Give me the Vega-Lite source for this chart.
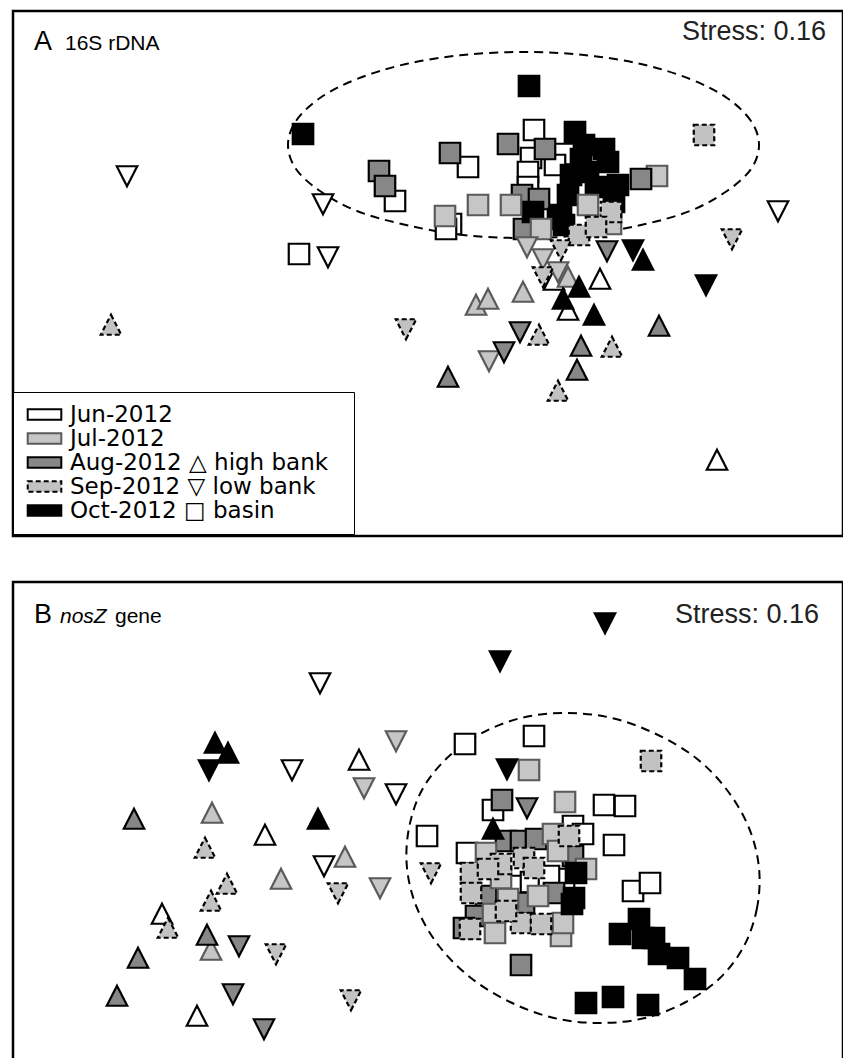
{
  "$schema": "https://vega.github.io/schema/vega-lite/v6.json",
  "padding": {"left": 11, "top": 9, "right": 0, "bottom": 0},
  "spacing": 42,
  "config": {
    "view": {"stroke": "black", "strokeWidth": 2.5},
    "font": "Liberation Sans"
  },
  "datasets": {
    "ellA": [
      {"i": 0, "x": 3.31, "y": 1.29}, {"i": 1, "x": 3.23, "y": 1.53}, {"i": 2, "x": 2.99, "y": 1.76},
      {"i": 3, "x": 2.62, "y": 1.95}, {"i": 4, "x": 2.13, "y": 2.10}, {"i": 5, "x": 1.56, "y": 2.19},
      {"i": 6, "x": 0.96, "y": 2.22}, {"i": 7, "x": 0.35, "y": 2.19}, {"i": 8, "x": -0.22, "y": 2.10},
      {"i": 9, "x": -0.71, "y": 1.95}, {"i": 10, "x": -1.08, "y": 1.76}, {"i": 11, "x": -1.32, "y": 1.53},
      {"i": 12, "x": -1.40, "y": 1.29}, {"i": 13, "x": -1.32, "y": 1.05}, {"i": 14, "x": -1.08, "y": 0.83},
      {"i": 15, "x": -0.71, "y": 0.63}, {"i": 16, "x": -0.22, "y": 0.49}, {"i": 17, "x": 0.35, "y": 0.39},
      {"i": 18, "x": 0.96, "y": 0.36}, {"i": 19, "x": 1.56, "y": 0.39}, {"i": 20, "x": 2.13, "y": 0.49},
      {"i": 21, "x": 2.62, "y": 0.63}, {"i": 22, "x": 2.99, "y": 0.83}, {"i": 23, "x": 3.23, "y": 1.05}
    ],
    "ellB": [
      {"i": 0, "x": 3.31, "y": -0.23}, {"i": 1, "x": 3.29, "y": -0.63}, {"i": 2, "x": 3.16, "y": -1.01},
      {"i": 3, "x": 2.92, "y": -1.33}, {"i": 4, "x": 2.58, "y": -1.57}, {"i": 5, "x": 2.17, "y": -1.73},
      {"i": 6, "x": 1.72, "y": -1.78}, {"i": 7, "x": 1.26, "y": -1.73}, {"i": 8, "x": 0.82, "y": -1.57},
      {"i": 9, "x": 0.43, "y": -1.33}, {"i": 10, "x": 0.11, "y": -1.01}, {"i": 11, "x": -0.11, "y": -0.63},
      {"i": 12, "x": -0.21, "y": -0.23}, {"i": 13, "x": -0.19, "y": 0.17}, {"i": 14, "x": -0.06, "y": 0.55},
      {"i": 15, "x": 0.19, "y": 0.87}, {"i": 16, "x": 0.52, "y": 1.11}, {"i": 17, "x": 0.93, "y": 1.27},
      {"i": 18, "x": 1.38, "y": 1.32}, {"i": 19, "x": 1.84, "y": 1.27}, {"i": 20, "x": 2.28, "y": 1.11},
      {"i": 21, "x": 2.68, "y": 0.87}, {"i": 22, "x": 2.99, "y": 0.55}, {"i": 23, "x": 3.21, "y": 0.17}
    ],
    "rdna": [
      {"month": "Jun-2012", "site": "basin", "x": -1.29, "y": 0.20},
      {"month": "Jun-2012", "site": "basin", "x": -0.33, "y": 0.73},
      {"month": "Jun-2012", "site": "basin", "x": 0.40, "y": 1.07},
      {"month": "Jun-2012", "site": "basin", "x": 0.23, "y": 0.50},
      {"month": "Jun-2012", "site": "basin", "x": 0.18, "y": 0.45},
      {"month": "Jun-2012", "site": "basin", "x": 1.06, "y": 1.44},
      {"month": "Jun-2012", "site": "basin", "x": 1.03, "y": 1.16},
      {"month": "Jun-2012", "site": "basin", "x": 1.37, "y": 1.20},
      {"month": "Jun-2012", "site": "basin", "x": 1.00, "y": 1.02},
      {"month": "Jun-2012", "site": "basin", "x": 1.27, "y": 1.09},
      {"month": "Jun-2012", "site": "basin", "x": 1.00, "y": 0.87},
      {"month": "Jul-2012", "site": "basin", "x": 2.29, "y": 0.98},
      {"month": "Aug-2012", "site": "basin", "x": -0.49, "y": 1.03},
      {"month": "Aug-2012", "site": "basin", "x": -0.43, "y": 0.88},
      {"month": "Aug-2012", "site": "basin", "x": 0.22, "y": 1.21},
      {"month": "Aug-2012", "site": "basin", "x": 0.80, "y": 1.30},
      {"month": "Aug-2012", "site": "basin", "x": 1.17, "y": 1.25},
      {"month": "Aug-2012", "site": "basin", "x": 0.94, "y": 0.79},
      {"month": "Aug-2012", "site": "basin", "x": 1.11, "y": 0.75},
      {"month": "Aug-2012", "site": "basin", "x": 2.13, "y": 0.95},
      {"month": "Aug-2012", "site": "basin", "x": 0.96, "y": 0.45},
      {"month": "Oct-2012", "site": "basin", "x": -1.25, "y": 1.40},
      {"month": "Oct-2012", "site": "basin", "x": 1.01, "y": 1.88},
      {"month": "Oct-2012", "site": "basin", "x": 1.47, "y": 1.42},
      {"month": "Oct-2012", "site": "basin", "x": 1.56, "y": 1.29},
      {"month": "Oct-2012", "site": "basin", "x": 1.76, "y": 1.25},
      {"month": "Oct-2012", "site": "basin", "x": 1.80, "y": 1.12},
      {"month": "Oct-2012", "site": "basin", "x": 1.90, "y": 0.89},
      {"month": "Oct-2012", "site": "basin", "x": 1.43, "y": 0.99},
      {"month": "Oct-2012", "site": "basin", "x": 1.40, "y": 0.79},
      {"month": "Oct-2012", "site": "basin", "x": 1.33, "y": 0.59},
      {"month": "Oct-2012", "site": "basin", "x": 1.60, "y": 1.02},
      {"month": "Oct-2012", "site": "basin", "x": 1.86, "y": 0.72},
      {"month": "Oct-2012", "site": "basin", "x": 1.53, "y": 1.15},
      {"month": "Oct-2012", "site": "basin", "x": 1.05, "y": 0.62},
      {"month": "Oct-2012", "site": "basin", "x": 1.30, "y": 0.55},
      {"month": "Oct-2012", "site": "basin", "x": 1.68, "y": 0.87},
      {"month": "Oct-2012", "site": "basin", "x": 1.36, "y": 0.49},
      {"month": "Jul-2012", "site": "basin", "x": 0.17, "y": 0.58},
      {"month": "Jul-2012", "site": "basin", "x": 0.50, "y": 0.69},
      {"month": "Jul-2012", "site": "basin", "x": 0.83, "y": 0.69},
      {"month": "Jul-2012", "site": "basin", "x": 1.60, "y": 0.69},
      {"month": "Jul-2012", "site": "basin", "x": 1.13, "y": 0.45},
      {"month": "Jul-2012", "site": "basin", "x": 1.83, "y": 0.50},
      {"month": "Sep-2012", "site": "basin", "x": 2.76, "y": 1.39},
      {"month": "Sep-2012", "site": "basin", "x": 1.83, "y": 0.62},
      {"month": "Sep-2012", "site": "basin", "x": 1.51, "y": 0.39},
      {"month": "Sep-2012", "site": "basin", "x": 1.68, "y": 0.47},
      {"month": "Jun-2012", "site": "low bank", "x": -3.01, "y": 0.98},
      {"month": "Jun-2012", "site": "low bank", "x": -1.05, "y": 0.70},
      {"month": "Jun-2012", "site": "low bank", "x": -1.00, "y": 0.17},
      {"month": "Jun-2012", "site": "low bank", "x": 3.50, "y": 0.63},
      {"month": "Jun-2012", "site": "high bank", "x": 2.89, "y": -1.86},
      {"month": "Jun-2012", "site": "high bank", "x": 1.26, "y": -0.06},
      {"month": "Jun-2012", "site": "high bank", "x": 1.72, "y": -0.05},
      {"month": "Jun-2012", "site": "high bank", "x": 1.40, "y": -0.36},
      {"month": "Jul-2012", "site": "low bank", "x": 0.99, "y": 0.27},
      {"month": "Jul-2012", "site": "low bank", "x": 1.15, "y": 0.15},
      {"month": "Jul-2012", "site": "low bank", "x": 1.30, "y": 0.02},
      {"month": "Jul-2012", "site": "high bank", "x": 1.40, "y": -0.03},
      {"month": "Jul-2012", "site": "high bank", "x": 0.95, "y": -0.18},
      {"month": "Jul-2012", "site": "high bank", "x": 0.48, "y": -0.31},
      {"month": "Jul-2012", "site": "high bank", "x": 0.60, "y": -0.25},
      {"month": "Jul-2012", "site": "low bank", "x": 0.61, "y": -0.87},
      {"month": "Aug-2012", "site": "low bank", "x": 1.79, "y": 0.23},
      {"month": "Aug-2012", "site": "low bank", "x": 0.92, "y": -0.58},
      {"month": "Aug-2012", "site": "low bank", "x": 0.76, "y": -0.78},
      {"month": "Aug-2012", "site": "high bank", "x": 1.53, "y": -0.72},
      {"month": "Aug-2012", "site": "high bank", "x": 2.31, "y": -0.52},
      {"month": "Aug-2012", "site": "high bank", "x": 1.49, "y": -0.96},
      {"month": "Aug-2012", "site": "high bank", "x": 0.20, "y": -1.03},
      {"month": "Oct-2012", "site": "low bank", "x": 2.05, "y": 0.24},
      {"month": "Oct-2012", "site": "high bank", "x": 2.15, "y": 0.14},
      {"month": "Oct-2012", "site": "high bank", "x": 1.51, "y": -0.13},
      {"month": "Oct-2012", "site": "high bank", "x": 1.35, "y": -0.25},
      {"month": "Oct-2012", "site": "high bank", "x": 1.66, "y": -0.41},
      {"month": "Oct-2012", "site": "low bank", "x": 2.78, "y": -0.11},
      {"month": "Sep-2012", "site": "high bank", "x": -3.17, "y": -0.51},
      {"month": "Sep-2012", "site": "low bank", "x": 3.04, "y": 0.35},
      {"month": "Sep-2012", "site": "low bank", "x": 1.33, "y": 0.24},
      {"month": "Sep-2012", "site": "low bank", "x": 1.15, "y": -0.03},
      {"month": "Sep-2012", "site": "low bank", "x": -0.22, "y": -0.55},
      {"month": "Sep-2012", "site": "high bank", "x": 1.11, "y": -0.61},
      {"month": "Sep-2012", "site": "high bank", "x": 1.84, "y": -0.73},
      {"month": "Sep-2012", "site": "high bank", "x": 1.30, "y": -1.17}
    ],
    "nosz": [
      {"month": "Jun-2012", "site": "basin", "x": 0.37, "y": 1.01},
      {"month": "Jun-2012", "site": "basin", "x": 1.06, "y": 1.09},
      {"month": "Jun-2012", "site": "basin", "x": 0.65, "y": 0.35},
      {"month": "Jun-2012", "site": "basin", "x": 1.76, "y": 0.40},
      {"month": "Jun-2012", "site": "basin", "x": 1.97, "y": 0.39},
      {"month": "Jun-2012", "site": "basin", "x": 1.45, "y": 0.19},
      {"month": "Jun-2012", "site": "basin", "x": 1.55, "y": 0.11},
      {"month": "Jun-2012", "site": "basin", "x": 1.86, "y": 0.00},
      {"month": "Jun-2012", "site": "basin", "x": -0.01, "y": 0.09},
      {"month": "Jun-2012", "site": "basin", "x": 2.05, "y": -0.46},
      {"month": "Jun-2012", "site": "basin", "x": 2.22, "y": -0.38},
      {"month": "Jun-2012", "site": "basin", "x": 0.39, "y": -0.08},
      {"month": "Jun-2012", "site": "basin", "x": 0.88, "y": -0.41},
      {"month": "Jun-2012", "site": "basin", "x": 1.03, "y": -0.37},
      {"month": "Jun-2012", "site": "basin", "x": 1.36, "y": -0.34},
      {"month": "Jun-2012", "site": "basin", "x": 1.21, "y": -0.31},
      {"month": "Aug-2012", "site": "basin", "x": 0.74, "y": 0.45},
      {"month": "Aug-2012", "site": "basin", "x": 0.78, "y": 0.04},
      {"month": "Aug-2012", "site": "basin", "x": 0.93, "y": 0.04},
      {"month": "Aug-2012", "site": "basin", "x": 1.08, "y": 0.06},
      {"month": "Aug-2012", "site": "basin", "x": 1.45, "y": -0.11},
      {"month": "Aug-2012", "site": "basin", "x": 0.58, "y": -0.51},
      {"month": "Aug-2012", "site": "basin", "x": 0.96, "y": -0.58},
      {"month": "Aug-2012", "site": "basin", "x": 1.26, "y": -0.48},
      {"month": "Aug-2012", "site": "basin", "x": 0.48, "y": -0.71},
      {"month": "Aug-2012", "site": "basin", "x": 0.36, "y": -0.83},
      {"month": "Aug-2012", "site": "basin", "x": 0.93, "y": -1.20},
      {"month": "Jul-2012", "site": "basin", "x": 1.01, "y": 0.75},
      {"month": "Jul-2012", "site": "basin", "x": 1.37, "y": 0.43},
      {"month": "Jul-2012", "site": "basin", "x": 1.25, "y": 0.11},
      {"month": "Jul-2012", "site": "basin", "x": 0.58, "y": -0.08},
      {"month": "Jul-2012", "site": "basin", "x": 1.30, "y": -0.06},
      {"month": "Jul-2012", "site": "basin", "x": 1.58, "y": -0.24},
      {"month": "Jul-2012", "site": "basin", "x": 0.80, "y": -0.54},
      {"month": "Jul-2012", "site": "basin", "x": 1.10, "y": -0.51},
      {"month": "Jul-2012", "site": "basin", "x": 0.65, "y": -0.69},
      {"month": "Jul-2012", "site": "basin", "x": 0.67, "y": -0.88},
      {"month": "Jul-2012", "site": "basin", "x": 1.33, "y": -0.91},
      {"month": "Jul-2012", "site": "basin", "x": 1.35, "y": -0.78},
      {"month": "Jul-2012", "site": "basin", "x": 0.73, "y": -0.33},
      {"month": "Sep-2012", "site": "basin", "x": 2.23, "y": 0.84},
      {"month": "Sep-2012", "site": "basin", "x": 1.41, "y": 0.09},
      {"month": "Sep-2012", "site": "basin", "x": 0.73, "y": -0.19},
      {"month": "Sep-2012", "site": "basin", "x": 0.96, "y": -0.13},
      {"month": "Sep-2012", "site": "basin", "x": 0.43, "y": -0.28},
      {"month": "Sep-2012", "site": "basin", "x": 0.60, "y": -0.24},
      {"month": "Sep-2012", "site": "basin", "x": 1.06, "y": -0.23},
      {"month": "Sep-2012", "site": "basin", "x": 0.43, "y": -0.48},
      {"month": "Sep-2012", "site": "basin", "x": 0.93, "y": -0.78},
      {"month": "Sep-2012", "site": "basin", "x": 1.13, "y": -0.79},
      {"month": "Sep-2012", "site": "basin", "x": 0.42, "y": -0.84},
      {"month": "Sep-2012", "site": "basin", "x": 0.78, "y": -0.66},
      {"month": "Oct-2012", "site": "basin", "x": 1.48, "y": -0.28},
      {"month": "Oct-2012", "site": "basin", "x": 1.46, "y": -0.53},
      {"month": "Oct-2012", "site": "basin", "x": 1.44, "y": -0.59},
      {"month": "Oct-2012", "site": "basin", "x": 1.92, "y": -0.89},
      {"month": "Oct-2012", "site": "basin", "x": 2.11, "y": -0.74},
      {"month": "Oct-2012", "site": "basin", "x": 2.15, "y": -0.93},
      {"month": "Oct-2012", "site": "basin", "x": 2.26, "y": -0.93},
      {"month": "Oct-2012", "site": "basin", "x": 2.31, "y": -1.09},
      {"month": "Oct-2012", "site": "basin", "x": 2.50, "y": -1.13},
      {"month": "Oct-2012", "site": "basin", "x": 2.67, "y": -1.34},
      {"month": "Oct-2012", "site": "basin", "x": 1.58, "y": -1.58},
      {"month": "Oct-2012", "site": "basin", "x": 1.85, "y": -1.52},
      {"month": "Oct-2012", "site": "basin", "x": 2.20, "y": -1.60},
      {"month": "Jun-2012", "site": "low bank", "x": -1.08, "y": 1.62},
      {"month": "Jun-2012", "site": "low bank", "x": -1.36, "y": 0.75},
      {"month": "Jun-2012", "site": "high bank", "x": -0.69, "y": 0.85},
      {"month": "Jun-2012", "site": "low bank", "x": -0.32, "y": 0.51},
      {"month": "Jun-2012", "site": "high bank", "x": -1.63, "y": 0.10},
      {"month": "Jun-2012", "site": "low bank", "x": -1.04, "y": -0.21},
      {"month": "Jun-2012", "site": "high bank", "x": -2.66, "y": -0.69},
      {"month": "Jun-2012", "site": "high bank", "x": -2.31, "y": -1.71},
      {"month": "Jul-2012", "site": "low bank", "x": -0.32, "y": 1.04},
      {"month": "Jul-2012", "site": "low bank", "x": -0.64, "y": 0.57},
      {"month": "Jul-2012", "site": "high bank", "x": -2.16, "y": 0.32},
      {"month": "Jul-2012", "site": "high bank", "x": -0.83, "y": -0.12},
      {"month": "Jul-2012", "site": "high bank", "x": -1.47, "y": -0.34},
      {"month": "Jul-2012", "site": "low bank", "x": -0.48, "y": -0.43},
      {"month": "Jul-2012", "site": "high bank", "x": -2.17, "y": -1.05},
      {"month": "Aug-2012", "site": "high bank", "x": -2.94, "y": 0.26},
      {"month": "Aug-2012", "site": "high bank", "x": -2.21, "y": -0.90},
      {"month": "Aug-2012", "site": "low bank", "x": -1.89, "y": -1.01},
      {"month": "Aug-2012", "site": "high bank", "x": -2.90, "y": -1.13},
      {"month": "Aug-2012", "site": "high bank", "x": -3.11, "y": -1.51},
      {"month": "Aug-2012", "site": "low bank", "x": -1.95, "y": -1.49},
      {"month": "Aug-2012", "site": "low bank", "x": -1.64, "y": -1.84},
      {"month": "Aug-2012", "site": "low bank", "x": 0.99, "y": 0.37},
      {"month": "Oct-2012", "site": "low bank", "x": 1.77, "y": 2.22},
      {"month": "Oct-2012", "site": "low bank", "x": 0.72, "y": 1.84},
      {"month": "Oct-2012", "site": "high bank", "x": -2.13, "y": 1.02},
      {"month": "Oct-2012", "site": "high bank", "x": -2.00, "y": 0.92},
      {"month": "Oct-2012", "site": "low bank", "x": -2.19, "y": 0.75},
      {"month": "Oct-2012", "site": "high bank", "x": -1.10, "y": 0.26},
      {"month": "Oct-2012", "site": "low bank", "x": 0.79, "y": 0.76},
      {"month": "Oct-2012", "site": "high bank", "x": 0.65, "y": 0.16},
      {"month": "Sep-2012", "site": "high bank", "x": -2.23, "y": -0.03},
      {"month": "Sep-2012", "site": "low bank", "x": -0.90, "y": -0.48},
      {"month": "Sep-2012", "site": "high bank", "x": -2.01, "y": -0.39},
      {"month": "Sep-2012", "site": "high bank", "x": -2.17, "y": -0.56},
      {"month": "Sep-2012", "site": "high bank", "x": -2.60, "y": -0.83},
      {"month": "Sep-2012", "site": "low bank", "x": -1.52, "y": -1.09},
      {"month": "Sep-2012", "site": "low bank", "x": -0.77, "y": -1.55},
      {"month": "Sep-2012", "site": "low bank", "x": 0.03, "y": -0.28}
    ]
  },
  "vconcat": [
    {
      "width": 830,
      "height": 525,
      "encoding": {
        "x": {"field": "x", "type": "quantitative", "scale": {"domain": [-4.15, 4.15], "nice": false, "zero": false}, "axis": null},
        "y": {"field": "y", "type": "quantitative", "scale": {"domain": [-2.62, 2.63], "nice": false, "zero": false}, "axis": null}
      },
      "layer": [
        {
          "data": {"name": "ellA"},
          "mark": {"type": "line", "interpolate": "cardinal-closed", "color": "black", "strokeWidth": 2, "strokeDash": [9, 6]},
          "encoding": {"order": {"field": "i", "type": "quantitative"}}
        },
        {
          "data": {"name": "rdna"},
          "mark": {"type": "point", "filled": true, "opacity": 1, "size": 420, "strokeWidth": 2.2},
          "encoding": {
            "fill": {
              "field": "month", "type": "nominal",
              "scale": {"domain": ["Jun-2012", "Jul-2012", "Aug-2012", "Sep-2012", "Oct-2012"], "range": ["#ffffff", "#c6c6c6", "#878787", "#c2c2c2", "#000000"]},
              "legend": {
                "title": null,
                "orient": "none",
                "legendX": 0,
                "legendY": 381,
                "padding": 11,
                "strokeColor": "black",
                "fillColor": "white",
                "symbolType": "M-1.6,-0.5H1.6V0.5H-1.6Z",
                "symbolSize": 441,
                "symbolStrokeWidth": 2,
                "symbolOffset": 9,
                "labelOffset": 14,
                "labelFont": "DejaVu Sans",
                "labelFontSize": 23,
                "labelColor": "black",
                "labelLimit": 500,
                "rowPadding": 0,
                "labelExpr": "datum.value == 'Aug-2012' ? 'Aug-2012   \u25b3 high bank' : datum.value == 'Sep-2012' ? 'Sep-2012   \u25bd low bank' : datum.value == 'Oct-2012' ? 'Oct-2012   \u25a1 basin' : datum.label",
                "encode": {"legend": {"update": {"strokeWidth": {"value": 2}}}}
              }
            },
            "stroke": {
              "field": "month", "type": "nominal",
              "scale": {"domain": ["Jun-2012", "Jul-2012", "Aug-2012", "Sep-2012", "Oct-2012"], "range": ["#000000", "#5a5a5a", "#000000", "#000000", "#000000"]}
            },
            "strokeDash": {
              "field": "month", "type": "nominal",
              "scale": {"domain": ["Jun-2012", "Jul-2012", "Aug-2012", "Sep-2012", "Oct-2012"], "range": [[1, 0], [1, 0], [1, 0], [5, 3], [1, 0]]}
            },
            "shape": {
              "field": "site", "type": "nominal",
              "scale": {"domain": ["high bank", "low bank", "basin"], "range": ["M0,-1L1,0.95L-1,0.95Z", "M0,1L1,-0.95L-1,-0.95Z", "M-1,-1H1V1H-1Z"]},
              "legend": null
            }
          }
        },
        {
          "data": {"values": [{"x": -3.94, "y": 2.24, "t": "A"}]},
          "mark": {"type": "text", "align": "left", "baseline": "alphabetic", "fontSize": 27, "color": "black"},
          "encoding": {"text": {"field": "t"}}
        },
        {
          "data": {"values": [{"x": -3.63, "y": 2.24, "t": "16S rDNA"}]},
          "mark": {"type": "text", "align": "left", "baseline": "alphabetic", "fontSize": 21, "color": "black"},
          "encoding": {"text": {"field": "t"}}
        },
        {
          "data": {"values": [{"x": 3.98, "y": 2.34, "t": "Stress: 0.16"}]},
          "mark": {"type": "text", "align": "right", "baseline": "alphabetic", "fontSize": 27, "color": "#222222"},
          "encoding": {"text": {"field": "t"}}
        }
      ]
    },
    {
      "width": 830,
      "height": 526,
      "encoding": {
        "x": {"field": "x", "type": "quantitative", "scale": {"domain": [-4.15, 4.15], "nice": false, "zero": false}, "axis": null},
        "y": {"field": "y", "type": "quantitative", "scale": {"domain": [-2.63, 2.63], "nice": false, "zero": false}, "axis": null}
      },
      "layer": [
        {
          "data": {"name": "ellB"},
          "mark": {"type": "line", "interpolate": "cardinal-closed", "color": "black", "strokeWidth": 2, "strokeDash": [9, 6]},
          "encoding": {"order": {"field": "i", "type": "quantitative"}}
        },
        {
          "data": {"name": "nosz"},
          "mark": {"type": "point", "filled": true, "opacity": 1, "size": 420, "strokeWidth": 2.2},
          "encoding": {
            "fill": {
              "field": "month", "type": "nominal",
              "scale": {"domain": ["Jun-2012", "Jul-2012", "Aug-2012", "Sep-2012", "Oct-2012"], "range": ["#ffffff", "#c6c6c6", "#878787", "#c2c2c2", "#000000"]},
              "legend": null
            },
            "stroke": {
              "field": "month", "type": "nominal",
              "scale": {"domain": ["Jun-2012", "Jul-2012", "Aug-2012", "Sep-2012", "Oct-2012"], "range": ["#000000", "#5a5a5a", "#000000", "#000000", "#000000"]},
              "legend": null
            },
            "strokeDash": {
              "field": "month", "type": "nominal",
              "scale": {"domain": ["Jun-2012", "Jul-2012", "Aug-2012", "Sep-2012", "Oct-2012"], "range": [[1, 0], [1, 0], [1, 0], [5, 3], [1, 0]]},
              "legend": null
            },
            "shape": {
              "field": "site", "type": "nominal",
              "scale": {"domain": ["high bank", "low bank", "basin"], "range": ["M0,-1L1,0.95L-1,0.95Z", "M0,1L1,-0.95L-1,-0.95Z", "M-1,-1H1V1H-1Z"]},
              "legend": null
            }
          }
        },
        {
          "data": {"values": [{"x": -3.94, "y": 2.22, "t": "B"}]},
          "mark": {"type": "text", "align": "left", "baseline": "alphabetic", "fontSize": 27, "color": "black"},
          "encoding": {"text": {"field": "t"}}
        },
        {
          "data": {"values": [{"x": -3.68, "y": 2.22, "t": "nosZ"}]},
          "mark": {"type": "text", "align": "left", "baseline": "alphabetic", "fontSize": 21, "fontStyle": "italic", "color": "black"},
          "encoding": {"text": {"field": "t"}}
        },
        {
          "data": {"values": [{"x": -3.13, "y": 2.22, "t": "gene"}]},
          "mark": {"type": "text", "align": "left", "baseline": "alphabetic", "fontSize": 21, "color": "black"},
          "encoding": {"text": {"field": "t"}}
        },
        {
          "data": {"values": [{"x": 3.91, "y": 2.22, "t": "Stress: 0.16"}]},
          "mark": {"type": "text", "align": "right", "baseline": "alphabetic", "fontSize": 27, "color": "#222222"},
          "encoding": {"text": {"field": "t"}}
        }
      ]
    }
  ]
}
